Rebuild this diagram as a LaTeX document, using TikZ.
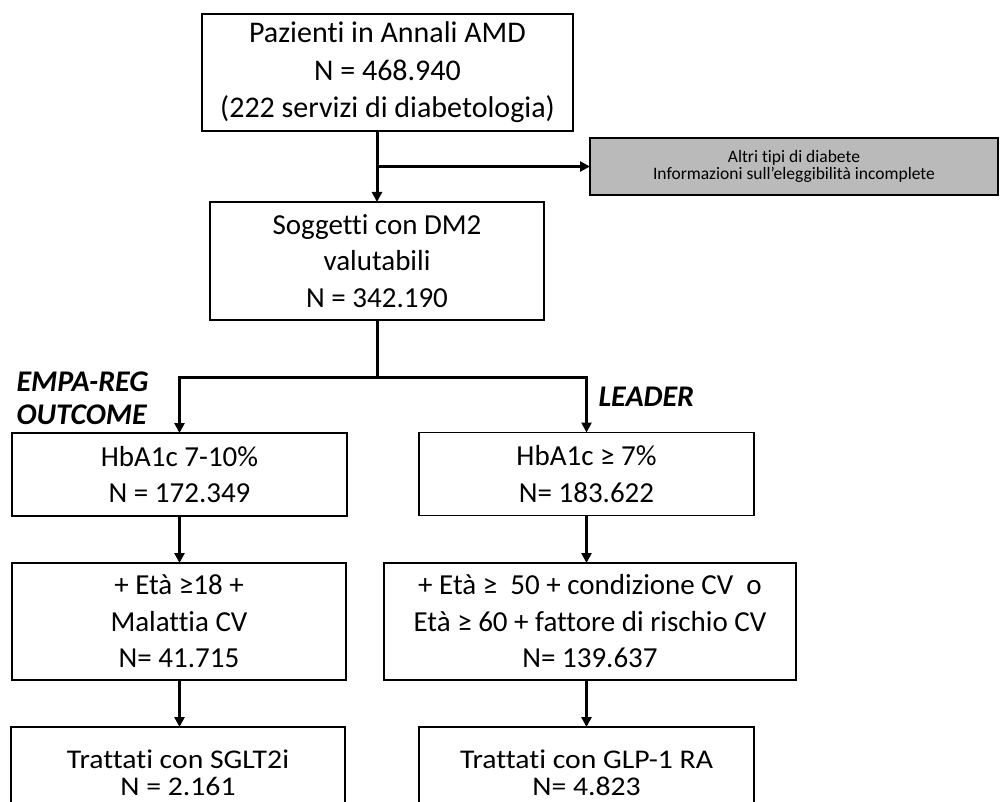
\documentclass[tikz,border=0pt]{standalone}
\usepackage{fontspec}
\setmainfont{Carlito}[Ligatures={NoCommon,NoRare}]
\newfontfamily\widefont{Carlito}[Ligatures={NoCommon,NoRare}, FakeStretch=1.1]
\usetikzlibrary{arrows.meta}

\tikzset{
  box/.style={draw, line width=1.5pt, inner sep=0pt, outer sep=0pt, align=center,
    font=\fontsize{29}{36.5}\selectfont},
  greybox/.style={box, fill=black!27, font=\fontsize{17.5}{17}\selectfont},
  lastbox/.style={box, font=\widefont\fontsize{27}{27.5}\selectfont},
  trial/.style={anchor=west, align=left, font=\fontsize{30}{33}\selectfont\bfseries\itshape},
  link/.style={line width=3pt},
  arr/.style={link, -{Triangle[length=10pt, width=10pt]}}
}

\begin{document}
\begin{tikzpicture}[x=1pt, y=-1pt]
  \useasboundingbox (0,0) rectangle (1008,802);

  % popolazione
  \node[box, font=\fontsize{30}{37.5}\selectfont, minimum width=371pt, minimum height=117pt] (annali) at (387.5,72.5)
    {Pazienti in Annali AMD\\N = 468.940\\(222 servizi di diabetologia)};
  \node[greybox, minimum width=408pt, minimum height=57pt] (excl) at (794,166.5)
    {Altri tipi di diabete\\Informazioni sull’eleggibilità incomplete};
  \node[box, minimum width=334pt, minimum height=118pt] (dm2) at (377,261)
    {Soggetti con DM2\\valutabili\\N = 342.190};

  % EMPA-REG OUTCOME
  \node[box, minimum width=335pt, minimum height=83pt] (hbaL) at (179.5,474.5)
    {HbA1c 7-10\%\\N = 172.349};
  \node[box, minimum width=334pt, minimum height=117pt] (etaL) at (179,621.5)
    {+ Età ≥18 +\\Malattia CV\\N= 41.715};
  \node[lastbox, minimum width=334pt, minimum height=92pt] (sglt) at (178,773)
    {Trattati con SGLT2i\\N = 2.161};

  % LEADER
  \node[box, minimum width=335pt, minimum height=83pt] (hbaR) at (586.5,474)
    {HbA1c ≥ 7\%\\N= 183.622};
  \node[box, minimum width=412pt, minimum height=117pt] (etaR) at (590,621.5)
    {+ Età ≥\ \ 50 + condizione CV\ \ o\\Età ≥ 60 + fattore di rischio CV\\N= 139.637};
  \node[lastbox, minimum width=335pt, minimum height=92pt] (glp) at (586.5,773)
    {Trattati con GLP-1 RA\\N= 4.823};

  \node[trial] (empa) at (13,398.5) {EMPA-REG\\OUTCOME};
  \node[trial] (leader) at (595,397) {LEADER};

  % collegamenti
  \coordinate (cut) at (377,166.5);
  \coordinate (split) at (377,377);
  \draw[arr] (annali.south -| dm2.north) -- (dm2.north);
  \draw[arr] (cut) -- (excl.west);
  \draw[link] (dm2.south) -- (split);
  \draw[arr] (split) -| (hbaL.north);
  \draw[arr] (split) -| (hbaR.north);
  \draw[arr] (hbaL.south) -- (etaL.north -| hbaL.south);
  \draw[arr] (etaL.south -| hbaL.south) -- (sglt.north -| hbaL.south);
  \draw[arr] (hbaR.south) -- (etaR.north -| hbaR.south);
  \draw[arr] (etaR.south -| hbaR.south) -- (glp.north);
\end{tikzpicture}
\end{document}
